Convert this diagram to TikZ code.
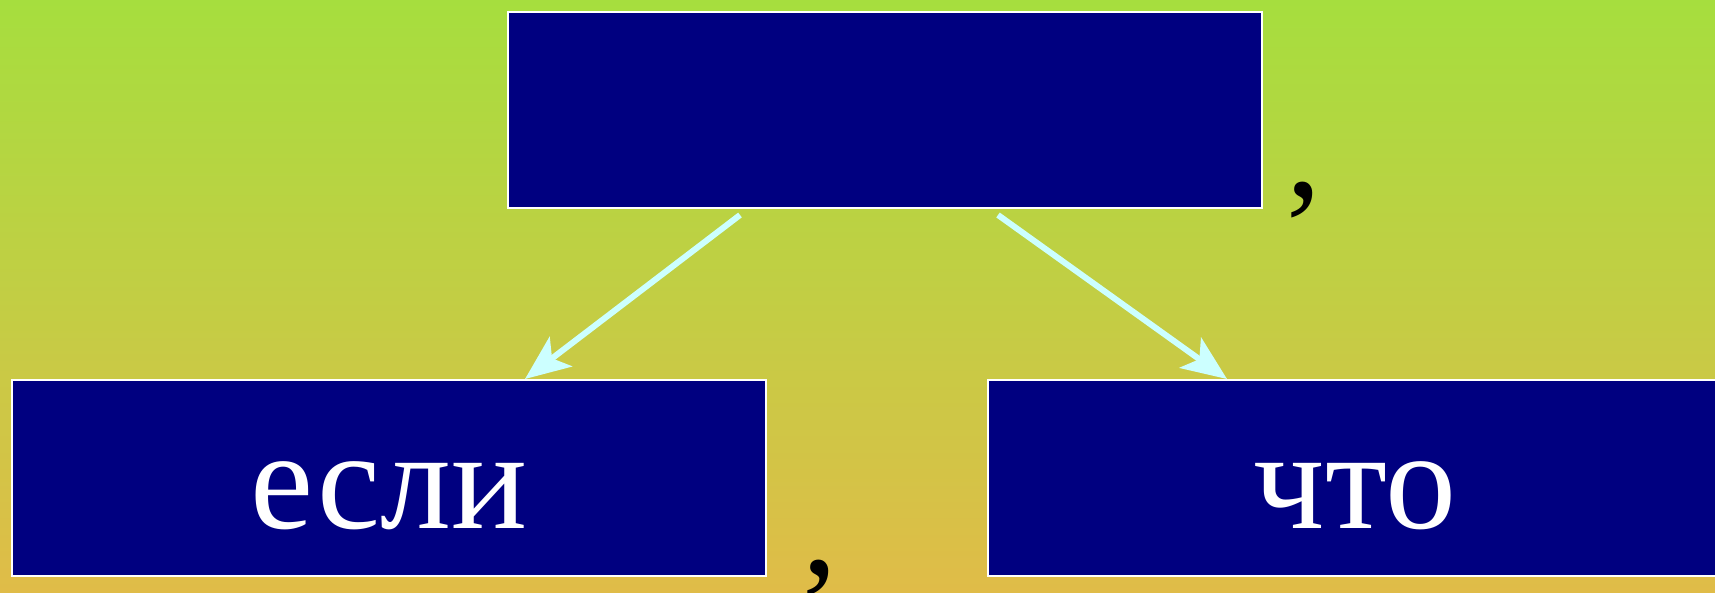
\documentclass[tikz,border=0pt]{standalone}
\usepackage{fontspec}
\setmainfont{Liberation Serif}
\usetikzlibrary{arrows.meta}
\definecolor{bgtop}{RGB}{166,222,62}
\definecolor{bgmid}{RGB}{194,206,68}
\definecolor{bgbot}{RGB}{224,188,72}
\definecolor{boxblue}{RGB}{0,0,128}
\definecolor{arrowcyan}{RGB}{204,255,255}
\tikzset{
  wordbox/.style={draw=white, line width=2pt, fill=boxblue, inner sep=0pt,
    minimum width=754pt, minimum height=196pt, anchor=north west},
  wordtext/.style={anchor=base, inner sep=0pt, text=white, font=\fontsize{142}{142}\selectfont},
  conn/.style={draw=arrowcyan, line width=6pt, -{Stealth[length=45pt,width=37pt,inset=11pt]}},
  comma/.style={anchor=base, inner sep=0pt, text=black, font=\fontsize{140}{140}\selectfont}
}
\begin{document}
\begin{tikzpicture}[x=1pt,y=-1pt]
\useasboundingbox (0,0) rectangle (1715,592);
\shade[top color=bgtop, bottom color=bgbot, middle color=bgmid] (0,0) rectangle (1715,592);
\clip (0,0) rectangle (1715,592);
\node[wordbox] (top) at (507,11) {};
\node[wordbox] (left) at (11,379) {};
\node[wordbox, minimum width=734pt] (right) at (987,379) {};
\node[wordtext] (t1) at ([yshift=49pt]left.south) {если};
\node[wordtext] (t2) at ([yshift=49pt]right.south) {что};
\node[comma] (c1) at (1304,196) {,};
\node[comma] (c2) at (820,574) {,};
\coordinate (s1) at (740,215);
\coordinate (e1) at (525,379);
\coordinate (s2) at (998,215);
\coordinate (e2) at (1227,379);
\draw[conn] (s1) -- (e1);
\draw[conn] (s2) -- (e2);
\end{tikzpicture}
\end{document}
